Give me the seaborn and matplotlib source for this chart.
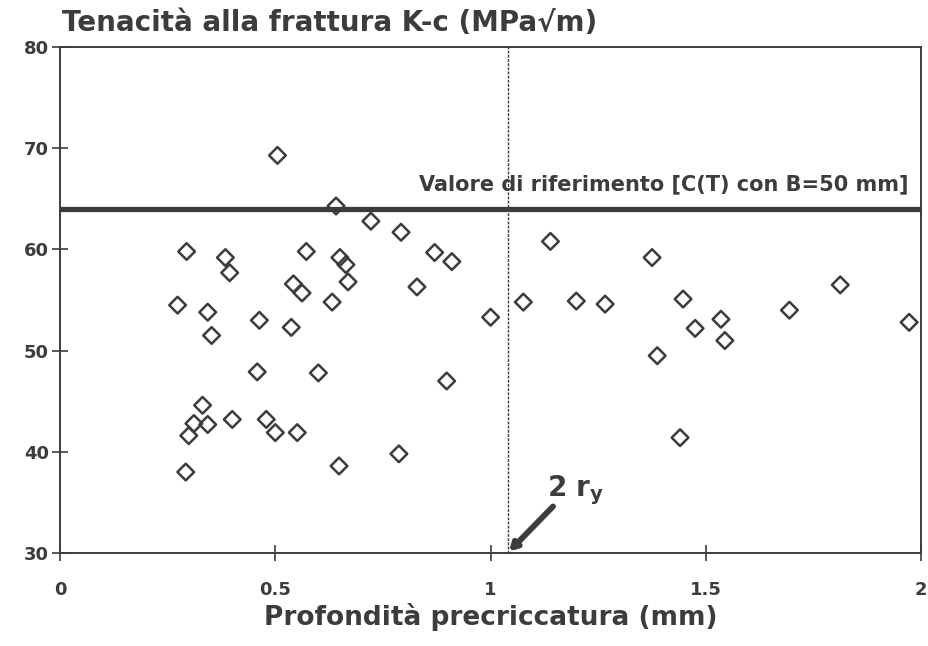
import matplotlib
matplotlib.use("Agg")
import matplotlib.pyplot as plt
import seaborn as sns
import pandas as pd

depth_mm = [0.273, 0.292, 0.294, 0.299, 0.311, 0.331, 0.343, 0.343, 0.352, 0.384,
            0.394, 0.400, 0.458, 0.463, 0.479, 0.500, 0.505, 0.537, 0.542, 0.551,
            0.562, 0.572, 0.600, 0.632, 0.641, 0.648, 0.650, 0.664, 0.669, 0.722,
            0.787, 0.792, 0.829, 0.870, 0.898, 0.910, 1.000, 1.076, 1.139, 1.199,
            1.266, 1.375, 1.387, 1.440, 1.447, 1.475, 1.535, 1.544, 1.694, 1.812,
            1.972]
toughness = [54.5, 38.0, 59.8, 41.6, 42.8, 44.6, 42.7, 53.8, 51.5, 59.2,
             57.7, 43.2, 47.9, 53.0, 43.2, 41.9, 69.3, 52.3, 56.6, 41.9,
             55.7, 59.8, 47.8, 54.8, 64.3, 38.6, 59.2, 58.5, 56.8, 62.8,
             39.8, 61.7, 56.3, 59.7, 47.0, 58.8, 53.3, 54.8, 60.8, 54.9,
             54.6, 59.2, 49.5, 41.4, 55.1, 52.2, 53.1, 51.0, 54.0, 56.5,
             52.8]
reference_value = 64.0
two_ry = 1.04
x_ticks = [0, 0.5, 1, 1.5, 2]
x_tick_labels = ["0", "0.5", "1", "1.5", "2"]
y_ticks = [30, 40, 50, 60, 70, 80]

sns.set_theme(style="white")
plt.rcParams["font.family"] = ["DejaVu Sans"]
plt.rcParams["font.weight"] = "bold"
plt.rcParams["mathtext.default"] = "bf"

ink = "#3c3c3c"
fig = plt.figure(figsize=(9.29, 6.46), dpi=100)
ax = fig.add_axes([0.0646, 0.144, 0.927, 0.783])

df = pd.DataFrame({"x": depth_mm, "y": toughness})
sns.scatterplot(data=df, x="x", y="y", ax=ax, marker="D", s=72,
                facecolor="none", edgecolor=ink, linewidth=1.8, zorder=3)

ax.axhline(reference_value, color=ink, lw=3.8, zorder=2)
ax.axvline(two_ry, color=ink, lw=1.0, ls=(0, (2, 1)), zorder=2)

ax.set_xlim(0, 2)
ax.set_ylim(30, 80)
ax.set_xticks(x_ticks)
ax.set_xticklabels(x_tick_labels)
ax.set_yticks(y_ticks)
ax.tick_params(axis="both", direction="inout", length=12, width=1.2,
               colors=ink, labelsize=13, labelcolor=ink)
ax.tick_params(axis="x", pad=14, bottom=True)
ax.tick_params(axis="y", left=True, pad=2)
for lab in ax.get_xticklabels() + ax.get_yticklabels():
    lab.set_fontweight("bold")

for sp in ax.spines.values():
    sp.set_color(ink)
    sp.set_linewidth(1.4)

ax.set_xlabel("Profondità precriccatura (mm)", fontsize=19, fontweight="bold",
              color=ink, labelpad=3)
ax.set_ylabel("")
fig.text(0.067, 0.964, "Tenacità alla frattura K-c (MPa\u221am)", fontsize=20,
         fontweight="bold", color=ink, ha="left", va="center")

ax.text(0.985, reference_value + 1.5, "Valore di riferimento [C(T) con B=50 mm]",
        fontsize=15, fontweight="bold", color=ink, ha="right", va="bottom",
        transform=ax.get_yaxis_transform())

ax.annotate("", xy=(two_ry + 0.003, 30.15), xytext=(1.145, 34.6),
            arrowprops=dict(arrowstyle="-|>,head_length=0.35,head_width=0.2",
                            color=ink, lw=4.2, shrinkA=0, shrinkB=0))
ax.text(1.13, 35.6, "2 r$_\\mathbf{y}$", fontsize=20, fontweight="bold",
        color=ink, ha="left", va="baseline")

fig.savefig("out.png", dpi=100, facecolor="white")
